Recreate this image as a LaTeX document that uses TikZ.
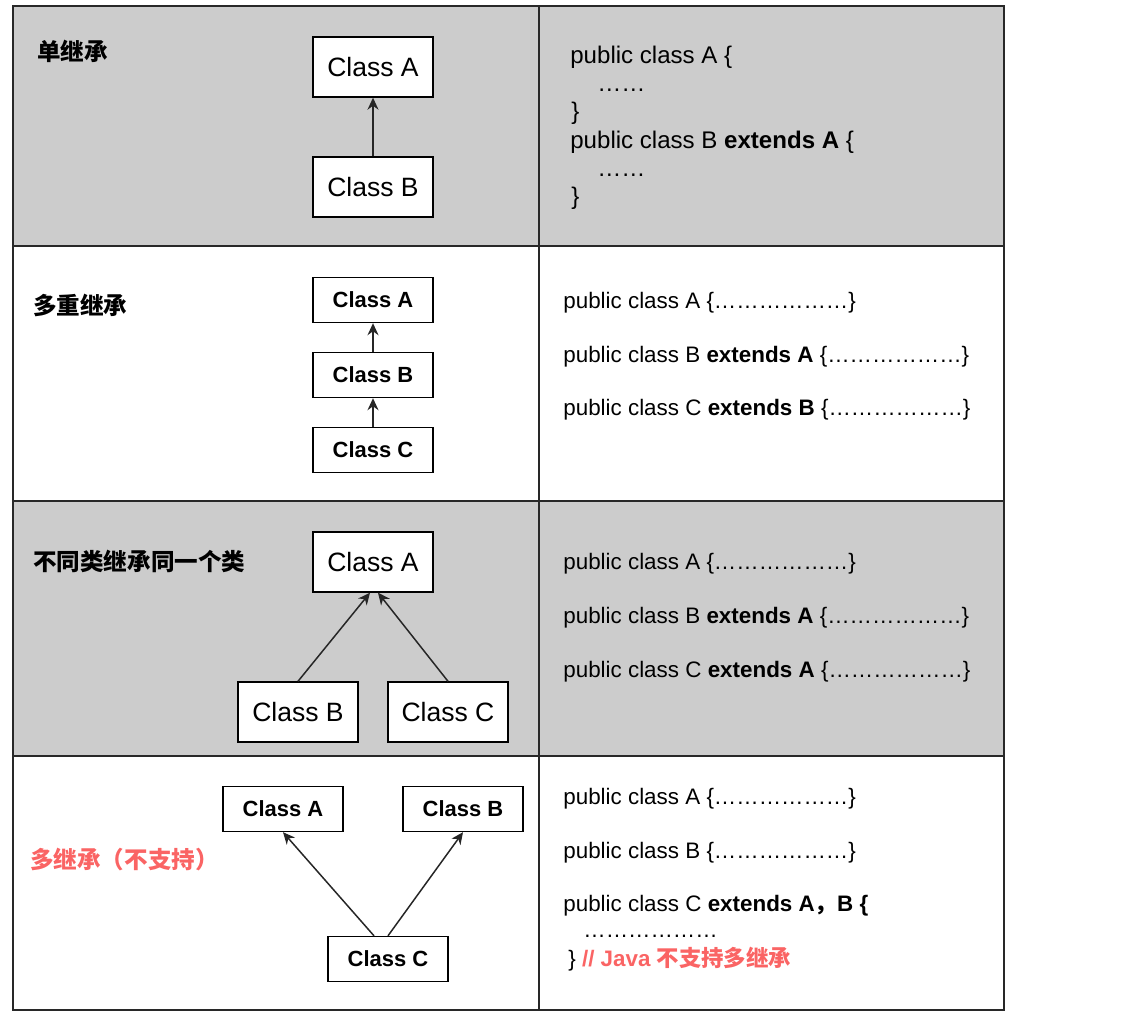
\documentclass[tikz,border=0pt]{standalone}
\usepackage{fontspec}
\setmainfont{Liberation Sans}
\newfontfamily\cjk{Noto Sans CJK SC}
\usetikzlibrary{arrows.meta}
\definecolor{panel}{RGB}{204,204,204}
\definecolor{rule}{RGB}{40,40,40}
\definecolor{warn}{RGB}{250,100,100}
\tikzset{
  >={Stealth[length=2.4mm,width=2.2mm]},
  cls/.style={draw=black,fill=white,line width=0.8pt,minimum width=24mm,
    minimum height=#1,inner sep=0pt,font=\fontsize{15.1}{18}\selectfont},
  cls/.default=12mm,
  bcls/.style={cls=9mm,font=\fontsize{12.5}{15}\selectfont\bfseries},
  inherit/.style={->,line width=0.85pt,draw=black!85},
  tag/.style={anchor=west,inner sep=0pt,font=\fontsize{13.4}{16}\selectfont\cjk\bfseries},
  code/.style={anchor=west,inner sep=0pt,font=\fontsize{12.75}{15}\selectfont},
  bigcode/.style={code,font=\fontsize{13.7}{16}\selectfont},
  grid line/.style={draw=rule,line width=0.8pt},
}

\begin{document}
\begin{tikzpicture}[x=0.02cm,y=-0.02cm]
  \useasboundingbox (0,0) rectangle (1123,1025);
  % table
  \fill[panel] (13,6) rectangle (1004,246);
  \fill[panel] (13,501) rectangle (1004,756);
  \draw[grid line] (13,6) rectangle (1004,1010);
  \foreach \y in {246,501,756} \draw[grid line] (13,\y) -- (1004,\y);
  \draw[grid line] (539,6) -- (539,1010);

  % single
  \node[tag] (t1) at (37,51) {单继承};
  \node[cls] (a1) at (373,67) {Class A};
  \node[cls] (b1) at (373,187) {Class B};
  \draw[inherit] (b1) -- (a1);
  \node[bigcode] (c11) at (570,57) {public class A \{};
  \node[bigcode] (c12) at (597,90) {……};
  \node[bigcode] (c13) at (571,113) {\}};
  \node[bigcode] (c14) at (570,142) {public class B \textbf{extends A} \{};
  \node[bigcode] (c15) at (597,175) {……};
  \node[bigcode] (c16) at (571,198) {\}};

  % chain
  \node[tag] (t2) at (33,305) {多重继承};
  \node[bcls] (a2) at (373,300) {Class A};
  \node[bcls] (b2) at (373,375) {Class B};
  \node[bcls] (c2) at (373,450) {Class C};
  \draw[inherit] (b2) -- (a2);
  \draw[inherit] (c2) -- (b2);
  \node[code] (c21) at (563,303) {public class A \{………………\}};
  \node[code] (c22) at (563,357) {public class B \textbf{extends A} \{………………\}};
  \node[code] (c23) at (563,410) {public class C \textbf{extends B} \{………………\}};

  % shared parent
  \node[tag] (t3) at (33,561) {不同类继承同一个类};
  \node[cls] (a3) at (373,562) {Class A};
  \node[cls] (b3) at (298,712) {Class B};
  \node[cls] (c3) at (448,712) {Class C};
  \draw[inherit] (b3.north) -- ([xshift=-0.06cm]a3.south);
  \draw[inherit] (c3.north) -- ([xshift=0.1cm]a3.south);
  \node[code] (c31) at (563,564) {public class A \{………………\}};
  \node[code] (c32) at (563,618) {public class B \textbf{extends A} \{………………\}};
  \node[code] (c33) at (563,672) {public class C \textbf{extends A} \{………………\}};

  % multiple
  \node[tag,text=warn] (t4) at (30,859) {多继承（不支持）};
  \node[bcls] (a4) at (283,809) {Class A};
  \node[bcls] (b4) at (463,809) {Class B};
  \node[bcls] (c4) at (388,959) {Class C};
  \draw[inherit] ([xshift=-0.28cm]c4.north) -- (a4.south);
  \draw[inherit] ([xshift=0cm]c4.north) -- (b4.south);
  \node[code] (c41) at (563,799) {public class A \{………………\}};
  \node[code] (c42) at (563,853) {public class B \{………………\}};
  \node[code] (c43) at (563,906) {public class C \textbf{extends A{\cjk ，}B \{}};
  \node[code] (c44) at (583,936) {………………};
  \node[code] (c45) at (568,959) {\} \textcolor{warn}{\bfseries // Java {\cjk 不支持多继承}}};
\end{tikzpicture}
\end{document}
